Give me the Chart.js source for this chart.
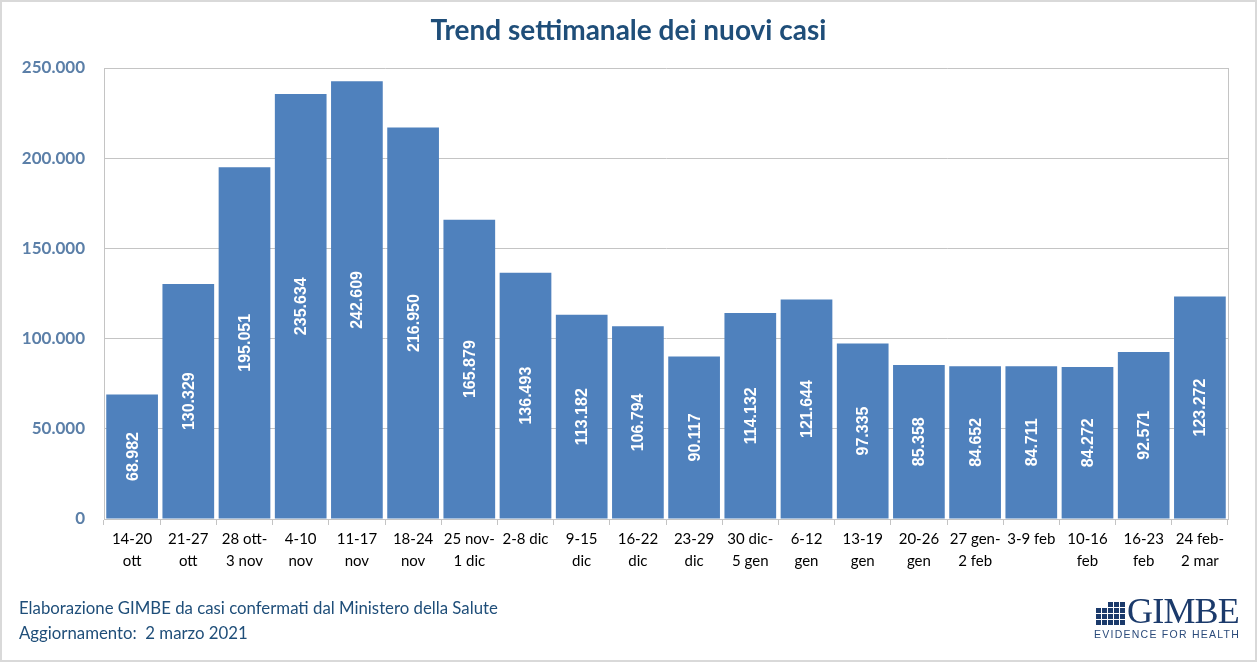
<!DOCTYPE html>
<html lang="it">
<head>
<meta charset="utf-8">
<script src="https://cdn.jsdelivr.net/npm/chart.js@4/dist/chart.umd.min.js"></script>
<style>
  html, body { margin: 0; padding: 0; background: #fff; }
  #wrap { position: relative; width: 1257px; height: 662px; overflow: hidden; }
  #wrap canvas { position: absolute; left: 0; top: 0; }
  #frame { position: absolute; left: 0; top: 0; width: 1253px; height: 658px; border: 2px solid #d9d9d9; pointer-events: none; }
  #title { position: absolute; left: 0; width: 1257px; top: 12px; text-align: center;
           font: bold 28px Lato, "Open Sans", sans-serif; color: #1f4e79; }
  .foot { position: absolute; left: 19px; font: 16.8px Lato, "Open Sans", sans-serif; color: #1f4e79; white-space: pre; }
  #logo { position: absolute; left: 1094px; top: 594px; width: 145px; height: 50px; }
  #logo .icon { position: absolute; left: 2px; top: 8px; display: grid; grid-template-columns: repeat(5, 5px); grid-gap: 1px; }
  #logo .icon span { width: 5px; height: 5px; background: #1b3a6b; display: block; }
  #logo .icon span.w { background: #fff; }
  #logo .name { position: absolute; left: 33px; top: -4px; font: 36px "Liberation Serif", "DejaVu Serif", serif; color: #1b3a6b; letter-spacing: -0.8px; }
  #logo .tag { position: absolute; left: 0px; top: 34px; font: 10.5px "Liberation Sans", Arial, sans-serif; color: #2a4a7a; letter-spacing: 1.25px; white-space: nowrap; }
</style>
</head>
<body>
<div id="wrap">
  <canvas id="c" width="1257" height="662"></canvas>
  <div id="title">Trend settimanale dei nuovi casi</div>
  <div class="foot" style="top:597px">Elaborazione GIMBE da casi confermati dal Ministero della Salute</div>
  <div class="foot" style="top:622px">Aggiornamento:  2 marzo 2021</div>
  <div id="logo">
    <div class="icon" id="icon"></div>
    <div class="name">GIMBE</div>
    <div class="tag">EVIDENCE FOR HEALTH</div>
  </div>
  <div id="frame"></div>
</div>
<script>
// ---- Data ----
const weekLabels = [
  ["14-20", "ott"], ["21-27", "ott"], ["28 ott-", "3 nov"], ["4-10", "nov"], ["11-17", "nov"],
  ["18-24", "nov"], ["25 nov-", "1 dic"], ["2-8 dic"], ["9-15", "dic"], ["16-22", "dic"],
  ["23-29", "dic"], ["30 dic-", "5 gen"], ["6-12", "gen"], ["13-19", "gen"], ["20-26", "gen"],
  ["27 gen-", "2 feb"], ["3-9 feb"], ["10-16", "feb"], ["16-23", "feb"], ["24 feb-", "2 mar"]
];
const newCases = [
  68982, 130329, 195051, 235634, 242609, 216950, 165879, 136493, 113182, 106794,
  90117, 114132, 121644, 97335, 85358, 84652, 84711, 84272, 92571, 123272
];
const yTickValues = [0, 50000, 100000, 150000, 200000, 250000];

// ---- Logo icon (decorative) ----
(function () {
  const icon = document.getElementById('icon');
  for (let i = 0; i < 20; i++) {
    const s = document.createElement('span');
    if (i === 0 || i === 1) s.className = 'w';
    icon.appendChild(s);
  }
})();

function fmtIt(v) {
  if (v === 0) return '0';
  return String(Math.round(v)).replace(/\B(?=(\d{3})+(?!\d))/g, '.');
}

const gridColor = '#c4c4c4';

const barLabelPlugin = {
  id: 'barLabels',
  afterDatasetsDraw(chart) {
    const ctx = chart.ctx;
    const meta = chart.getDatasetMeta(0);
    ctx.save();
    ctx.fillStyle = '#ffffff';
    ctx.font = 'bold 16px "Liberation Sans", Arial, sans-serif';
    ctx.textAlign = 'center';
    ctx.textBaseline = 'middle';
    meta.data.forEach((bar, i) => {
      const cy = (bar.y + bar.base) / 2;
      ctx.save();
      ctx.translate(bar.x, cy);
      ctx.rotate(-Math.PI / 2);
      ctx.fillText(fmtIt(chart.data.datasets[0].data[i]), 0, 1);
      ctx.restore();
    });
    ctx.restore();
  }
};

const boxPlugin = {
  id: 'plotBox',
  beforeDatasetsDraw(chart) {
    const a = chart.chartArea, ctx = chart.ctx;
    ctx.save();
    ctx.strokeStyle = gridColor;
    ctx.lineWidth = 1;
    ctx.beginPath();
    ctx.moveTo(Math.round(a.right) + 0.5, a.top);
    ctx.lineTo(Math.round(a.right) + 0.5, a.bottom);
    ctx.stroke();
    ctx.restore();
  }
};

function build() {
  new Chart(document.getElementById('c'), {
    type: 'bar',
    data: {
      labels: weekLabels,
      datasets: [{
        data: newCases,
        backgroundColor: '#4f81bd',
        borderWidth: 0,
        barPercentage: 0.92,
        categoryPercentage: 1.0
      }]
    },
    options: {
      responsive: false,
      animation: false,
      devicePixelRatio: 1,
      layout: { padding: { left: 0, right: 29, top: 68, bottom: 83 } },
      plugins: { legend: { display: false }, tooltip: { enabled: false }, title: { display: false } },
      scales: {
        x: {
          afterFit(s) { s.height = 60; },
          grid: { display: true, drawOnChartArea: false, drawTicks: true, tickLength: 6, color: gridColor, offset: true },
          border: { display: true, color: gridColor },
          ticks: {
            autoSkip: false, maxRotation: 0, minRotation: 0, padding: 3,
            color: '#000000',
            font: { family: 'Lato, "Open Sans", sans-serif', size: 15, lineHeight: 1.47 }
          }
        },
        y: {
          min: 0, max: 250000,
          afterFit(s) { s.width = 104; },
          afterBuildTicks(s) { s.ticks = yTickValues.map(v => ({ value: v })); },
          grid: { color: gridColor, drawTicks: false },
          border: { display: true, color: gridColor },
          ticks: {
            padding: 19,
            color: '#5b7fa8',
            font: { family: 'Lato, "Open Sans", sans-serif', size: 17, weight: 'bold' },
            callback: (v) => fmtIt(v)
          }
        }
      }
    },
    plugins: [boxPlugin, barLabelPlugin]
  });
}

const fontLoads = [
  'bold 17px Lato', '15px Lato', 'bold 28px Lato',
  'bold 16px "Liberation Sans"', '36px "Liberation Serif"'
].map(f => document.fonts ? document.fonts.load(f).catch(() => null) : Promise.resolve());
Promise.all(fontLoads).then(build, build);
</script>
</body>
</html>
